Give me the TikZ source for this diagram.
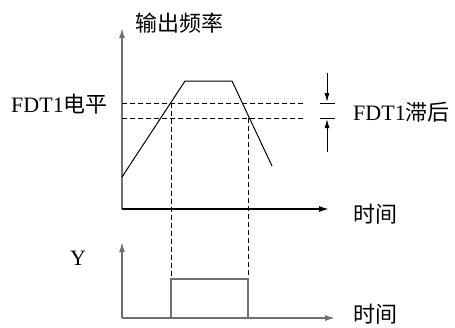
\documentclass[tikz,border=0pt]{standalone}
\usepackage{fontspec}
\setmainfont{Liberation Serif}
\newfontfamily\cjk{Noto Sans CJK SC}
\usetikzlibrary{arrows.meta}
\definecolor{axgray}{HTML}{707070}
\tikzset{
  lbl/.style={inner sep=0pt,font=\fontsize{22}{26}\selectfont},
  axis/.style={line width=1.5pt,-{Latex[length=10pt,width=6pt]}},
  curve/.style={line width=1pt,black},
  dashln/.style={line width=0.9pt,dash pattern=on 5pt off 3pt},
  marker/.style={line width=1pt,-{Latex[length=9pt,width=5pt]}}
}
\begin{document}
\begin{tikzpicture}[x=1pt,y=-1pt]
\useasboundingbox (0,0) rectangle (455,327);
% top chart coordinates
\coordinate (o1) at (122,209);
\coordinate (yt1) at (122,28);
\coordinate (xe1) at (329,209);
\coordinate (c0) at (122,177);
\coordinate (c1) at (185,81);
\coordinate (c2) at (232,81);
\coordinate (c3) at (272,166);
\coordinate (h1a) at (122,103);
\coordinate (h1b) at (305,103);
\coordinate (h2a) at (122,118);
\coordinate (h2b) at (305,118);
\coordinate (v1a) at (171,103);
\coordinate (v1b) at (171,279);
\coordinate (v2a) at (248,118);
\coordinate (v2b) at (248,279);
% hysteresis marker
\coordinate (ma) at (327,73);
\coordinate (mb) at (327,102);
\coordinate (mc) at (327,152);
\coordinate (md) at (327,119);
\coordinate (t1a) at (320,103);
\coordinate (t1b) at (335,103);
\coordinate (t2a) at (320,118);
\coordinate (t2b) at (335,118);
% bottom chart
\coordinate (o2) at (122,318);
\coordinate (yt2) at (122,242);
\coordinate (xe2) at (335,318);
\coordinate (p0) at (171,318);
\coordinate (p1) at (171,279);
\coordinate (p2) at (248,279);
\coordinate (p3) at (248,318);

% axes
\draw[axis,axgray] (o1) -- (yt1);
\draw[axis,black] (o1) -- (xe1);
\draw[axis,axgray] (o2) -- (yt2);
\draw[axis,axgray] (o2) -- (xe2);

% curve
\draw[curve] (c0) -- (c1) -- (c2) -- (c3);

% dashed lines
\draw[dashln] (h1a) -- (h1b);
\draw[dashln] (h2a) -- (h2b);
\draw[dashln] (v1a) -- (v1b);
\draw[dashln] (v2a) -- (v2b);

% marker
\draw[marker] (ma) -- (mb);
\draw[marker] (mc) -- (md);
\draw[line width=1pt] (t1a) -- (t1b);
\draw[line width=1pt] (t2a) -- (t2b);

% pulse
\draw[line width=1.2pt,axgray] (p0) -- (p1) -- (p2) -- (p3);

% labels
\node[lbl,anchor=west] (lf) at (135,23) {\cjk 输出频率};
\node[lbl,anchor=east] (lv) at (108,104) {FDT1{\cjk 电平}};
\node[lbl,anchor=west] (lh) at (353,112) {FDT1{\cjk 滞后}};
\node[lbl,anchor=west] (lt1) at (353,214) {\cjk 时间};
\node[lbl,anchor=west] (lt2) at (353,314) {\cjk 时间};
\node[lbl] (ly) at (78,258) {Y};
\end{tikzpicture}
\end{document}
